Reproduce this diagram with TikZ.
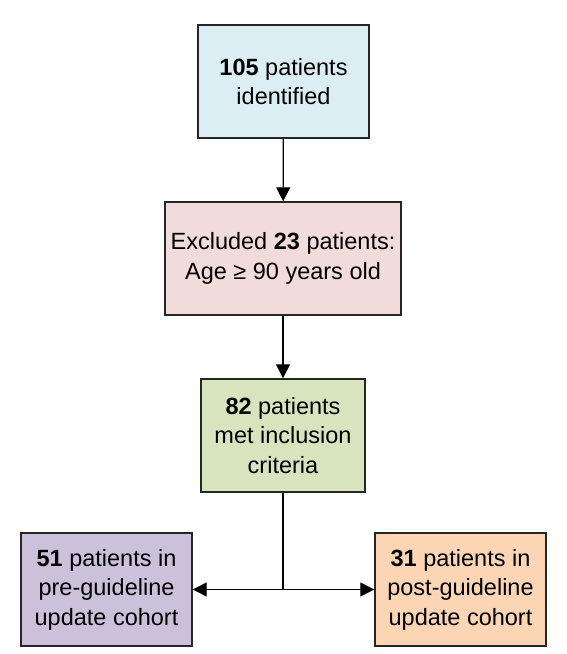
\documentclass[tikz,border=0pt]{standalone}
\usepackage{fontspec}
\setmainfont{Liberation Sans}
\usepackage{xcolor}
\usepackage{tikz}
\usetikzlibrary{arrows.meta}

\definecolor{identblue}{HTML}{DBEEF3}
\definecolor{exclpink}{HTML}{F2DCDB}
\definecolor{inclgreen}{HTML}{D7E4BD}
\definecolor{prepurple}{HTML}{CCC1DA}
\definecolor{postorange}{HTML}{FCD5B5}

\begin{document}
\begin{tikzpicture}[x=1pt,y=1pt,
	box/.style={draw=black!85,line width=1.4pt,align=center,minimum height=113pt,inner sep=0pt,
		font=\fontsize{23.5}{29.5}\selectfont},
	arr/.style={line width=1.3pt,-{Triangle[length=14pt,width=14pt]}}]
	\useasboundingbox (0,0) rectangle (567,654);
	
	\node[box,fill=identblue,minimum width=171pt] (ident) at (283.5,572.5) {\textbf{105} patients\\identified};
	\node[box,fill=exclpink,minimum width=236pt] (excl) at (283,395.5) {Excluded \textbf{23} patients:\\Age ≥ 90 years old};
	\node[box,fill=inclgreen,minimum width=164pt] (incl) at (283,218.5) {\textbf{82} patients\\met inclusion\\criteria};
	\node[box,fill=prepurple,minimum width=171pt] (pre) at (106.5,64.5) {\textbf{51} patients in\\pre-guideline\\update cohort};
	\node[box,fill=postorange,minimum width=171pt] (post) at (460.5,64.5) {\textbf{31} patients in\\post-guideline\\update cohort};
	
	\coordinate (split) at (283,64.5);
	\draw[arr] (ident) -- (excl);
	\draw[arr] (excl) -- (incl);
	\draw[line width=1.3pt] (incl) -- (split);
	\draw[arr] (split) -- (pre);
	\draw[arr] (split) -- (post);
\end{tikzpicture}
\end{document}
